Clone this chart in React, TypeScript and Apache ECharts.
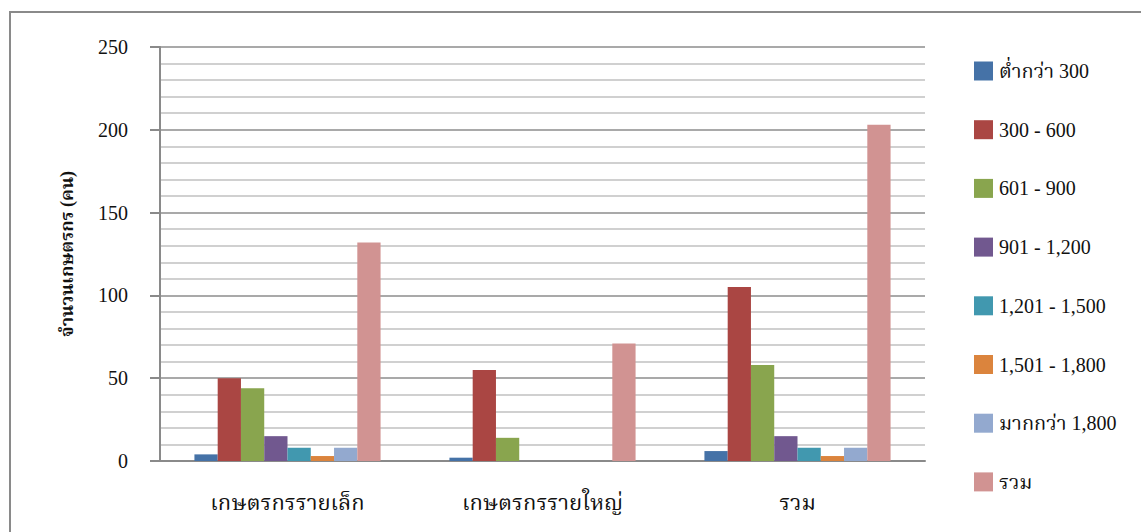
import React, { useEffect, useRef } from "react";
import * as echarts from "echarts";

// Farmer groups on the category axis
const categories = ["เกษตรกรรายเล็ก", "เกษตรกรรายใหญ่", "รวม"];

// Income brackets, one series each
const seriesNames = [
  "ต่ำกว่า 300",
  "300 - 600",
  "601 - 900",
  "901 - 1,200",
  "1,201 - 1,500",
  "1,501 - 1,800",
  "มากกว่า 1,800",
  "รวม",
];

const below300 = [4, 2, 6];
const from300to600 = [50, 55, 105];
const from601to900 = [44, 14, 58];
const from901to1200 = [15, 0, 15];
const from1201to1500 = [8, 0, 8];
const from1501to1800 = [3, 0, 3];
const above1800 = [8, 0, 8];
const total = [132, 71, 203];

const seriesValues = [
  below300,
  from300to600,
  from601to900,
  from901to1200,
  from1201to1500,
  from1501to1800,
  above1800,
  total,
];

const colors = [
  "#4572A7",
  "#AA4643",
  "#89A54E",
  "#71588F",
  "#4198AF",
  "#DB843D",
  "#93A9CF",
  "#D19392",
];

const yTicks = [0, 50, 100, 150, 200, 250];

const FONT = "'Liberation Serif', 'Noto Serif Thai', 'Times New Roman', serif";

export default function App() {
  const ref = useRef<HTMLDivElement>(null);

  useEffect(() => {
    document.body.style.margin = "0";
    if (!ref.current) return;
    const chart = echarts.init(ref.current, undefined, { renderer: "svg" });

    chart.setOption({
      animation: false,
      backgroundColor: "#ffffff",
      color: colors,
      textStyle: { fontFamily: FONT },
      graphic: [
        {
          type: "rect",
          shape: { x: 10, y: 12, width: 1300, height: 700 },
          style: { fill: "none", stroke: "#8a8a8a", lineWidth: 2 },
          silent: true,
          z: -1,
        },
      ],
      grid: { left: 160, right: 1141 - 925, top: 47, bottom: 532 - 461 },
      legend: {
        orient: "vertical",
        left: 969,
        top: 56,
        itemWidth: 19,
        itemHeight: 19,
        itemGap: 38.7,
        icon: "rect",
        data: seriesNames,
        textStyle: {
          fontFamily: FONT,
          fontSize: 20,
          color: "#111",
          padding: [0, 0, 0, 1],
        },
      },
      xAxis: {
        type: "category",
        data: categories,
        axisLine: { lineStyle: { color: "#8a8a8a", width: 2 } },
        axisTick: { show: false },
        axisLabel: {
          fontFamily: FONT,
          fontSize: 22,
          color: "#111",
          margin: 30,
        },
      },
      yAxis: {
        type: "value",
        min: yTicks[0],
        max: yTicks[yTicks.length - 1],
        interval: 50,
        name: "จำนวนเกษตรกร (คน)",
        nameLocation: "middle",
        nameGap: 84,
        nameTextStyle: {
          fontFamily: FONT,
          fontSize: 18,
          fontWeight: "bold",
          color: "#111",
        },
        axisLine: { show: true, lineStyle: { color: "#8a8a8a", width: 2 } },
        axisTick: {
          show: true,
          length: 10,
          lineStyle: { color: "#8a8a8a", width: 2 },
        },
        axisLabel: {
          fontFamily: FONT,
          fontSize: 20,
          color: "#111",
          margin: 32,
        },
        splitLine: { lineStyle: { color: "#8c8c8c", width: 1.6 } },
        minorTick: { show: false, splitNumber: 5 },
        minorSplitLine: {
          show: true,
          lineStyle: { color: "#c0c0c0", width: 1.6 },
        },
      },
      series: seriesNames.map((name, i) => ({
        name,
        type: "bar",
        data: seriesValues[i],
        barGap: "0%",
        barCategoryGap: "27%",
        itemStyle: { color: colors[i] },
      })),
    });

    return () => chart.dispose();
  }, []);

  return (
    <div
      ref={ref}
      style={{ position: "absolute", left: 0, top: 0, width: 1141, height: 532 }}
    />
  );
}
